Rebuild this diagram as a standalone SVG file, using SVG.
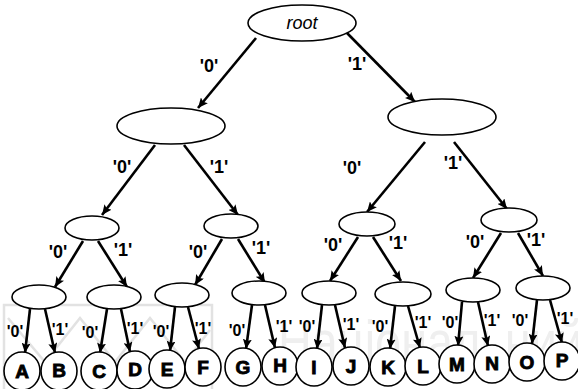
<svg xmlns="http://www.w3.org/2000/svg" width="578" height="389" viewBox="0 0 578 389">
  <style>
    .node { fill: #ffffff; stroke: #000000; stroke-width: 1.6; }
    .edge { stroke: #000000; stroke-width: 2.6; fill: none; marker-end: url(#arrow); }
    .lbl { font-family: "Liberation Sans", Arial, sans-serif; font-size: 18px; font-weight: bold; fill: #000; text-anchor: middle; }
    .lbl.small { font-size: 16px; }
    .leaf { font-family: "Liberation Sans", Arial, sans-serif; font-size: 19px; font-weight: bold; fill: #000; stroke: #000; stroke-width: 0.9; text-anchor: middle; }
    .root { font-family: "Liberation Sans", Arial, sans-serif; font-size: 18px; font-style: italic; fill: #000; text-anchor: middle; }
    .wm { fill: none; stroke: #e2e2e2; stroke-width: 2.5; }
    .wmtext { font-family: "Liberation Sans", Arial, sans-serif; font-size: 60px; fill: #efefef; }
  </style>
  <defs>
    <marker id="arrow" markerUnits="userSpaceOnUse" markerWidth="11" markerHeight="9" refX="10" refY="4.5" orient="auto">
      <path d="M0,0 L10,4.5 L0,9 L2,4.5 z" fill="#000"/>
    </marker>
  </defs>

  <rect width="578" height="389" fill="#ffffff"/>

  <!-- faint background emblem -->
  <g id="emblem">
    <rect class="wm" x="4" y="305" width="208" height="92"/>
    <polyline class="wm" points="8,318 45,362 80,318 115,362 150,318 185,362 210,330"/>
    <text class="wmtext" x="278" y="362" textLength="305" lengthAdjust="spacingAndGlyphs">Національний</text>
  </g>

  <!-- connectors -->
  <g id="edges">
    <line class="edge" x1="256" y1="38" x2="198" y2="108"/>
    <line class="edge" x1="347" y1="33" x2="415" y2="102"/>

    <line class="edge" x1="155" y1="145" x2="102" y2="215"/>
    <line class="edge" x1="184" y1="145" x2="238" y2="215"/>
    <line class="edge" x1="425" y1="142" x2="367" y2="212"/>
    <line class="edge" x1="454" y1="142" x2="507" y2="209"/>

    <line class="edge" x1="83" y1="241" x2="55" y2="287"/>
    <line class="edge" x1="98" y1="241" x2="127" y2="287"/>
    <line class="edge" x1="222" y1="239" x2="195" y2="285"/>
    <line class="edge" x1="238" y1="239" x2="265" y2="283"/>
    <line class="edge" x1="358" y1="237" x2="330" y2="281"/>
    <line class="edge" x1="373" y1="237" x2="401" y2="281"/>
    <line class="edge" x1="501" y1="233" x2="473" y2="278"/>
    <line class="edge" x1="518" y1="233" x2="543" y2="276"/>

    <line class="edge" x1="30" y1="309" x2="25" y2="353"/>
    <line class="edge" x1="45" y1="309" x2="55" y2="353"/>
    <line class="edge" x1="107" y1="309" x2="100" y2="353"/>
    <line class="edge" x1="121" y1="309" x2="130" y2="352"/>
    <line class="edge" x1="175" y1="307" x2="170" y2="351"/>
    <line class="edge" x1="188" y1="307" x2="199" y2="349"/>
    <line class="edge" x1="252" y1="305" x2="246" y2="349"/>
    <line class="edge" x1="265" y1="305" x2="275" y2="348"/>
    <line class="edge" x1="322" y1="305" x2="317" y2="349"/>
    <line class="edge" x1="335" y1="305" x2="345" y2="348"/>
    <line class="edge" x1="395" y1="306" x2="390" y2="349"/>
    <line class="edge" x1="408" y1="306" x2="420" y2="348"/>
    <line class="edge" x1="462" y1="302" x2="458" y2="346"/>
    <line class="edge" x1="478" y1="302" x2="488" y2="346"/>
    <line class="edge" x1="537" y1="300" x2="532" y2="344"/>
    <line class="edge" x1="550" y1="300" x2="562" y2="343"/>
  </g>

  <!-- edge labels -->
  <g id="labels">
    <text class="lbl" x="209" y="72">'0'</text>
    <text class="lbl" x="357" y="70">'1'</text>
    <text class="lbl" x="122" y="173">'0'</text>
    <text class="lbl" x="219" y="173">'1'</text>
    <text class="lbl" x="352" y="174">'0'</text>
    <text class="lbl" x="453" y="169">'1'</text>

    <text class="lbl" x="58" y="258">'0'</text>
    <text class="lbl" x="123" y="256">'1'</text>
    <text class="lbl" x="198" y="258">'0'</text>
    <text class="lbl" x="261" y="254">'1'</text>
    <text class="lbl" x="333" y="251">'0'</text>
    <text class="lbl" x="398" y="249">'1'</text>
    <text class="lbl" x="475" y="248">'0'</text>
    <text class="lbl" x="536" y="246">'1'</text>

    <text class="lbl small" x="15" y="337">'0'</text>
    <text class="lbl small" x="60" y="335">'1'</text>
    <text class="lbl small" x="90" y="338">'0'</text>
    <text class="lbl small" x="135" y="334">'1'</text>
    <text class="lbl small" x="161" y="337">'0'</text>
    <text class="lbl small" x="203" y="334">'1'</text>
    <text class="lbl small" x="237" y="336">'0'</text>
    <text class="lbl small" x="284" y="332">'1'</text>
    <text class="lbl small" x="307" y="332">'0'</text>
    <text class="lbl small" x="351" y="330">'1'</text>
    <text class="lbl small" x="380" y="332">'0'</text>
    <text class="lbl small" x="423" y="328">'1'</text>
    <text class="lbl small" x="450" y="328">'0'</text>
    <text class="lbl small" x="492" y="326">'1'</text>
    <text class="lbl small" x="520" y="326">'0'</text>
    <text class="lbl small" x="565" y="324">'1'</text>
  </g>

  <!-- root and internal nodes -->
  <g id="root"><ellipse class="node" cx="302" cy="23" rx="54" ry="18"/><text class="root" x="302" y="29">root</text></g>
  <g id="n0"><ellipse class="node" cx="171" cy="126" rx="54" ry="18"/></g>
  <g id="n1"><ellipse class="node" cx="442" cy="117" rx="54" ry="18"/></g>
  <g id="n00"><ellipse class="node" cx="92" cy="228" rx="27" ry="12"/></g>
  <g id="n01"><ellipse class="node" cx="231" cy="226" rx="27" ry="12"/></g>
  <g id="n10"><ellipse class="node" cx="367" cy="224" rx="28" ry="12"/></g>
  <g id="n11"><ellipse class="node" cx="509" cy="220" rx="28" ry="12"/></g>
  <g id="n000"><ellipse class="node" cx="39" cy="297" rx="27" ry="12"/></g>
  <g id="n001"><ellipse class="node" cx="114" cy="297" rx="27" ry="12"/></g>
  <g id="n010"><ellipse class="node" cx="182" cy="295" rx="27" ry="12"/></g>
  <g id="n011"><ellipse class="node" cx="259" cy="293" rx="27" ry="12"/></g>
  <g id="n100"><ellipse class="node" cx="329" cy="293" rx="27" ry="12"/></g>
  <g id="n101"><ellipse class="node" cx="403" cy="294" rx="28" ry="12"/></g>
  <g id="n110"><ellipse class="node" cx="473" cy="290" rx="27" ry="12"/></g>
  <g id="n111"><ellipse class="node" cx="543" cy="288" rx="27" ry="12"/></g>

  <!-- leaves -->
  <g id="leafA"><ellipse class="node" cx="22" cy="371" rx="18" ry="19"/><text class="leaf" x="22" y="378">A</text></g>
  <g id="leafB"><ellipse class="node" cx="59" cy="371" rx="18" ry="19"/><text class="leaf" x="59" y="377">B</text></g>
  <g id="leafC"><ellipse class="node" cx="99" cy="371" rx="18" ry="19"/><text class="leaf" x="99" y="378">C</text></g>
  <g id="leafD"><ellipse class="node" cx="135" cy="370" rx="18" ry="19"/><text class="leaf" x="135" y="376">D</text></g>
  <g id="leafE"><ellipse class="node" cx="167" cy="369" rx="18" ry="19"/><text class="leaf" x="167" y="376">E</text></g>
  <g id="leafF"><ellipse class="node" cx="203" cy="367" rx="18" ry="19"/><text class="leaf" x="203" y="374">F</text></g>
  <g id="leafG"><ellipse class="node" cx="243" cy="367" rx="18" ry="19"/><text class="leaf" x="243" y="374">G</text></g>
  <g id="leafH"><ellipse class="node" cx="280" cy="366" rx="18" ry="19"/><text class="leaf" x="280" y="372">H</text></g>
  <g id="leafI"><ellipse class="node" cx="314" cy="367" rx="18" ry="19"/><text class="leaf" x="314" y="374">I</text></g>
  <g id="leafJ"><ellipse class="node" cx="351" cy="366" rx="18" ry="19"/><text class="leaf" x="351" y="373">J</text></g>
  <g id="leafK"><ellipse class="node" cx="388" cy="367" rx="18" ry="19"/><text class="leaf" x="388" y="374">K</text></g>
  <g id="leafL"><ellipse class="node" cx="423" cy="366" rx="18" ry="19"/><text class="leaf" x="423" y="373">L</text></g>
  <g id="leafM"><ellipse class="node" cx="457" cy="364" rx="18" ry="19"/><text class="leaf" x="457" y="371">M</text></g>
  <g id="leafN"><ellipse class="node" cx="492" cy="364" rx="18" ry="19"/><text class="leaf" x="492" y="370">N</text></g>
  <g id="leafO"><ellipse class="node" cx="527" cy="362" rx="18" ry="19"/><text class="leaf" x="527" y="369">O</text></g>
  <g id="leafP"><ellipse class="node" cx="562" cy="361" rx="18" ry="19"/><text class="leaf" x="562" y="367">P</text></g>
</svg>
